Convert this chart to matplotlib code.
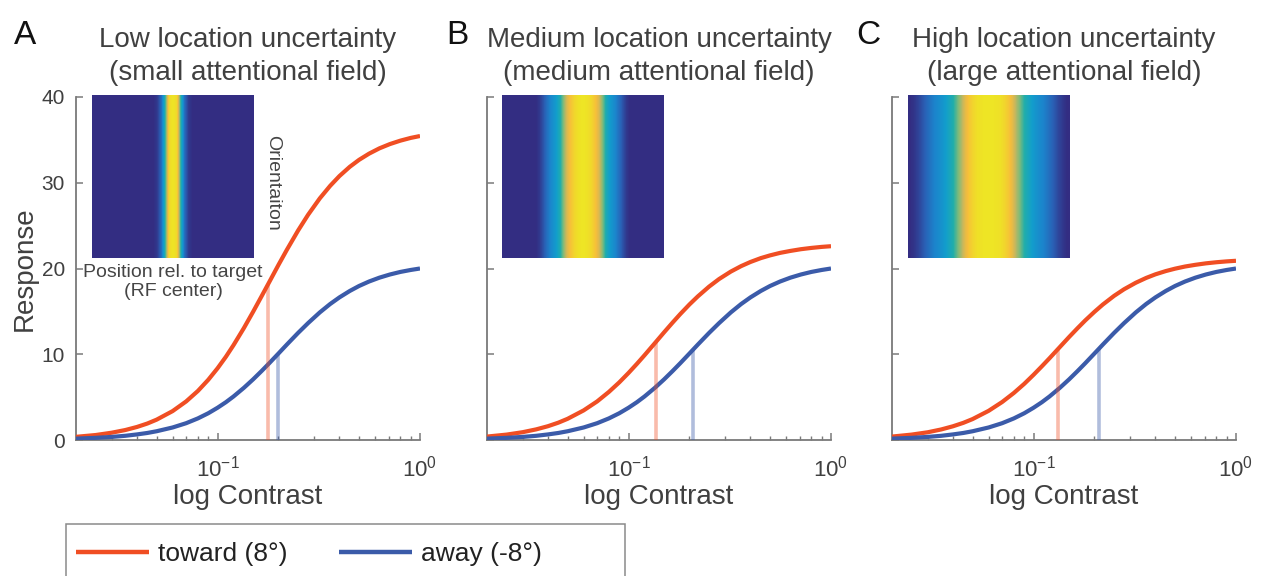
import numpy as np
import matplotlib
matplotlib.use("Agg")
import matplotlib.pyplot as plt
from matplotlib.colors import LinearSegmentedColormap
from matplotlib.patches import Rectangle

plt.rcParams['font.family'] = ['Liberation Sans', 'DejaVu Sans']

# ---------------- data ----------------
contrast = [0.02, 0.025, 0.03, 0.035, 0.04, 0.045, 0.05, 0.06, 0.07, 0.08, 0.09,
            0.10, 0.11, 0.12, 0.135, 0.15, 0.165, 0.18, 0.20, 0.22, 0.25, 0.28,
            0.32, 0.36, 0.40, 0.45, 0.50, 0.56, 0.63, 0.71, 0.80, 0.90, 1.00]

away = [0.16, 0.25, 0.36, 0.49, 0.65, 0.82, 1.02, 1.46, 1.96, 2.52, 3.12,
        3.76, 4.41, 5.08, 6.09, 7.08, 8.04, 8.95, 10.09, 11.13, 12.49, 13.63,
        14.88, 15.86, 16.63, 17.38, 17.96, 18.48, 18.93, 19.30, 19.60, 19.83, 20.00]

toward_low = [0.37, 0.58, 0.85, 1.16, 1.52, 1.92, 2.37, 3.37, 4.50, 5.72, 7.02,
              8.36, 9.71, 11.07, 13.06, 14.97, 16.76, 18.41, 20.42, 22.18, 24.43, 26.26,
              28.18, 29.64, 30.78, 31.86, 32.67, 33.39, 34.01, 34.51, 34.91, 35.23, 35.45]

toward_med = [0.40, 0.63, 0.91, 1.24, 1.61, 2.02, 2.47, 3.45, 4.50, 5.61, 6.72,
              7.82, 8.88, 9.89, 11.30, 12.57, 13.69, 14.68, 15.81, 16.75, 17.89, 18.77,
              19.64, 20.28, 20.76, 21.21, 21.53, 21.82, 22.05, 22.25, 22.40, 22.52, 22.60]

toward_high = [0.40, 0.63, 0.90, 1.23, 1.60, 2.00, 2.44, 3.40, 4.43, 5.49, 6.55,
               7.60, 8.60, 9.54, 10.85, 12.02, 13.04, 13.94, 14.95, 15.80, 16.81, 17.58,
               18.34, 18.90, 19.32, 19.70, 19.98, 20.23, 20.43, 20.60, 20.73, 20.83, 20.90]

titles = ["Low location uncertainty\n(small attentional field)",
          "Medium location uncertainty\n(medium attentional field)",
          "High location uncertainty\n(large attentional field)"]
panel_letters = ["A", "B", "C"]

# contrast at which the vertical markers sit, and their heights
mark_toward_c = [0.178, 0.137, 0.132]
mark_toward_r = [18.2, 11.5, 10.6]
mark_away_c = [0.200, 0.208, 0.211]
mark_away_r = [10.1, 10.5, 10.7]

# attentional-field profile (colour index, centre -> edge, 21 samples)
field_low_half = [1.0, 0.96, 0.50, 0.15, 0.03, 0.0, 0.0, 0.0, 0.0, 0.0, 0.0,
                  0.0, 0.0, 0.0, 0.0, 0.0, 0.0, 0.0, 0.0, 0.0, 0.0]
field_med_half = [1.0, 0.99, 0.96, 0.90, 0.80, 0.62, 0.45, 0.35, 0.28, 0.19, 0.10,
                  0.03, 0.0, 0.0, 0.0, 0.0, 0.0, 0.0, 0.0, 0.0, 0.0]
field_high_half = [1.0, 1.0, 0.99, 0.98, 0.95, 0.90, 0.82, 0.70, 0.60, 0.50, 0.43,
                   0.37, 0.32, 0.28, 0.24, 0.19, 0.14, 0.09, 0.05, 0.02, 0.0]

legend_labels = ["toward (8°)", "away (-8°)"]

# ---------------- styling ----------------
RED = "#F04E23"
BLUE = "#3B5BA9"
TXT = "#404040"
SPINE = "#7a7a7a"

parula = LinearSegmentedColormap.from_list(
    "parula_like",
    ["#332D82", "#2A60B5", "#1C84CC", "#129ECC", "#22AEAA",
     "#7FBB7A", "#C9B75C", "#F7BE3A", "#EEE525"])

W, H = 1263, 576
fig = plt.figure(figsize=(W / 100, H / 100), dpi=100)


def fx(px):
    return px / W


def fy(py):
    return 1 - py / H


ax_left = [76, 487, 892]
ax_w, ax_top, ax_bot = 344, 97, 440
inset_left = [92, 502, 908]
inset_w, inset_top, inset_bot = 162, 95, 258
towards = [toward_low, toward_med, toward_high]
fields = [field_low_half, field_med_half, field_high_half]
letter_x = [25, 457, 868]

handles = None
for i in range(3):
    ax = fig.add_axes([fx(ax_left[i]), fy(ax_bot), ax_w / W, (ax_bot - ax_top) / H])
    l1, = ax.plot(contrast, towards[i], color=RED, lw=3, solid_capstyle='butt', zorder=3)
    l2, = ax.plot(contrast, away, color=BLUE, lw=3, solid_capstyle='butt', zorder=3)
    ax.vlines(mark_toward_c[i], 0, mark_toward_r[i], color=RED, alpha=0.38, lw=2.6, zorder=4)
    ax.vlines(mark_away_c[i], 0, mark_away_r[i], color=BLUE, alpha=0.4, lw=2.6, zorder=4)
    if handles is None:
        handles = [l1, l2]
    ax.set_xscale('log')
    ax.set_xlim(0.02, 1)
    ax.set_ylim(0, 40)
    ax.set_yticks([0, 10, 20, 30, 40])
    ax.set_xticks([0.1, 1])
    for s in ['top', 'right']:
        ax.spines[s].set_visible(False)
    for s in ['left', 'bottom']:
        ax.spines[s].set_color(SPINE)
        ax.spines[s].set_linewidth(1.3)
    ax.tick_params(which='major', direction='in', length=5, width=1.1, color=SPINE,
                   labelsize=15, labelcolor=TXT)
    ax.tick_params(which='minor', direction='in', length=3, width=1.0, color=SPINE)
    ax.tick_params(axis='x', which='major', pad=11, labelsize=16)
    ax.tick_params(axis='y', which='major', pad=8)
    if i == 0:
        ax.set_ylabel("Response", fontsize=20, color=TXT, labelpad=3)
    else:
        ax.set_yticklabels([])
    ax.set_xlabel("log Contrast", fontsize=20, color=TXT, labelpad=2)
    ax.set_title(titles[i], fontsize=20, color=TXT, pad=12, linespacing=1.36)
    fig.text(fx(letter_x[i]), fy(36), panel_letters[i], fontsize=24, color="#111111",
             ha='center', va='center')

    # inset heat map
    axi = fig.add_axes([fx(inset_left[i]), fy(inset_bot), inset_w / W,
                        (inset_bot - inset_top) / H])
    half = np.array(fields[i])
    prof = np.concatenate([half[:0:-1], half])
    axi.imshow(prof[np.newaxis, :], cmap=parula, vmin=0, vmax=1, aspect='auto',
               interpolation='bilinear', extent=[-1, 1, -1, 1])
    axi.set_xticks([])
    axi.set_yticks([])
    for s in axi.spines.values():
        s.set_visible(False)

fig.text(fx(173), fy(282), "Position rel. to target\n(RF center)", fontsize=14,
         color="#454545", ha='center', va='center', linespacing=1.15)
fig.text(fx(273), fy(183), "Orientaiton", fontsize=14, color="#454545",
         ha='center', va='center', rotation=270)

# legend
fig.patches.append(Rectangle((fx(66), fy(600)), (625 - 66) / W, (600 - 524) / H,
                             transform=fig.transFigure, fill=False,
                             edgecolor="#8a8a8a", lw=1.1))
leg = fig.legend(handles, legend_labels, loc='center left',
                 bbox_to_anchor=(fx(76), fy(554)), ncol=2, frameon=False,
                 fontsize=19, handlelength=2.77, handletextpad=0.34,
                 columnspacing=1.93, borderpad=0, borderaxespad=0)
for t in leg.get_texts():
    t.set_color("#222222")
for lh in leg.get_lines():
    lh.set_linewidth(3.2)

fig.savefig("out.png", dpi=100)
